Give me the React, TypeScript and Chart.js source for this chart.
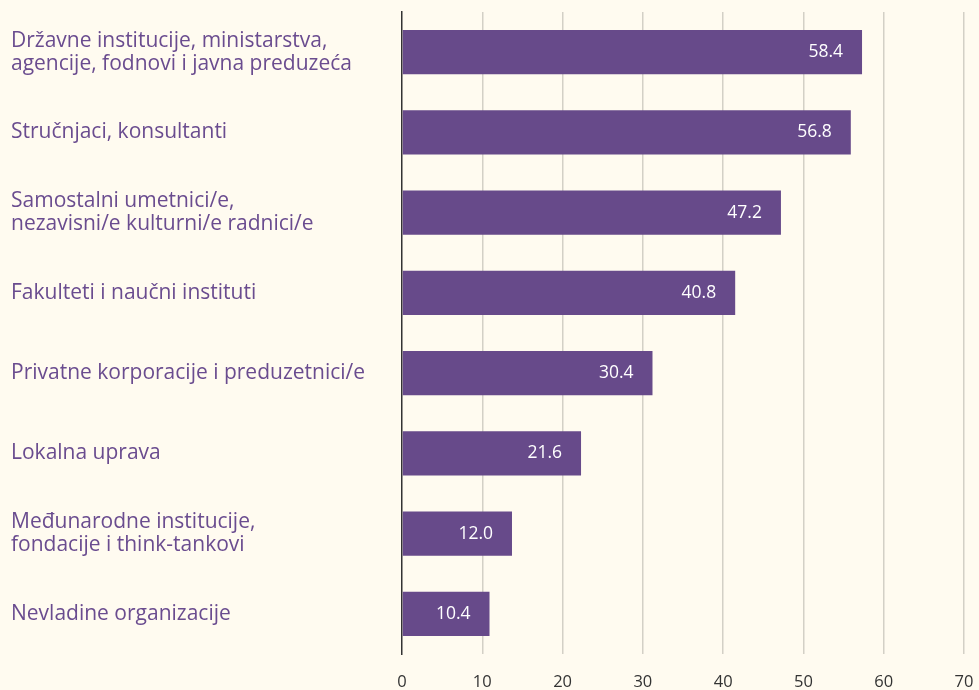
import React, { useEffect, useRef } from "react";
import { Chart, registerables } from "chart.js";

Chart.register(...registerables);

const categories: (string | string[])[] = [
  ["Državne institucije, ministarstva,", "agencije, fodnovi i javna preduzeća"],
  "Stručnjaci, konsultanti",
  ["Samostalni umetnici/e,", "nezavisni/e kulturni/e radnici/e"],
  "Fakulteti i naučni instituti",
  "Privatne korporacije i preduzetnici/e",
  "Lokalna uprava",
  ["Međunarodne institucije,", "fondacije i think-tankovi"],
  "Nevladine organizacije",
];

// bar lengths as drawn in the reference
const barValues = [57.3, 55.9, 47.2, 41.5, 31.2, 22.3, 13.7, 10.9];
// value labels as printed in the reference
const valueLabels = ["58.4", "56.8", "47.2", "40.8", "30.4", "21.6", "12.0", "10.4"];

const xTicks = [0, 10, 20, 30, 40, 50, 60, 70];

const BG = "#fffbf0";
const BAR = "#674a8a";
const LABEL = "#6a4c8f";
const FONT = "'Open Sans'";

const valueLabelPlugin = {
  id: "valueLabels",
  afterDatasetsDraw(chart: any) {
    const ctx = chart.ctx;
    const meta = chart.getDatasetMeta(0);
    ctx.save();
    ctx.fillStyle = "#ffffff";
    ctx.font = `17.5px ${FONT}`;
    ctx.textAlign = "right";
    ctx.textBaseline = "middle";
    meta.data.forEach((el: any, i: number) => {
      ctx.fillText(valueLabels[i], el.x - 19, el.y);
    });
    ctx.restore();
  },
};

const bgPlugin = {
  id: "bg",
  beforeDraw(chart: any) {
    const ctx = chart.ctx;
    ctx.save();
    ctx.fillStyle = BG;
    ctx.fillRect(0, 0, chart.width, chart.height);
    ctx.restore();
  },
};

export default function App() {
  const ref = useRef<HTMLCanvasElement>(null);
  useEffect(() => {
    document.body.style.margin = "0";
    document.body.style.background = BG;
    document.body.style.overflow = "hidden";
    const chart = new Chart(ref.current!, {
      type: "bar",
      data: {
        labels: categories,
        datasets: [
          {
            data: barValues,
            backgroundColor: BAR,
            borderWidth: 0,
            barPercentage: 0.55,
            categoryPercentage: 1,
          },
        ],
      },
      options: {
        indexAxis: "y",
        animation: false,
        responsive: false,
        devicePixelRatio: 1,
        layout: { autoPadding: false, padding: { left: 11, top: 12, right: 15, bottom: 0 } },
        plugins: {
          legend: { display: false },
          tooltip: { enabled: false },
        },
        scales: {
          x: {
            min: 0,
            max: 70,
            afterBuildTicks: (scale: any) => {
              scale.ticks = xTicks.map((v) => ({ value: v }));
            },
            afterFit: (scale: any) => {
              scale.height = 36;
              scale.paddingLeft = 0;
              scale.paddingRight = 0;
            },
            grid: {
              color: (c: any) => (c.tick && c.tick.value === 0 ? "rgba(0,0,0,0)" : "#d3d0c6"),
              lineWidth: 1.5,
              drawTicks: false,
            },
            border: { display: false },
            ticks: {
              padding: 18,
              color: "#333333",
              font: { family: FONT, size: 16.5 },
            },
          },
          y: {
            afterFit: (scale: any) => {
              scale.width = 391;
              scale.paddingTop = 0;
              scale.paddingBottom = 0;
            },
            grid: { display: false, drawTicks: false },
            border: { display: true, color: "#333333", width: 1.5 },
            ticks: {
              crossAlign: "far",
              color: LABEL,
              font: { family: FONT, size: 21, lineHeight: 1.1 },
            },
          },
        },
      },
      plugins: [bgPlugin, valueLabelPlugin],
    } as any);
    return () => chart.destroy();
  }, []);
  return (
    <div style={{ width: "979px", height: "690px" }}>
      <canvas ref={ref} width={979} height={690} style={{ display: "block" }} />
    </div>
  );
}
